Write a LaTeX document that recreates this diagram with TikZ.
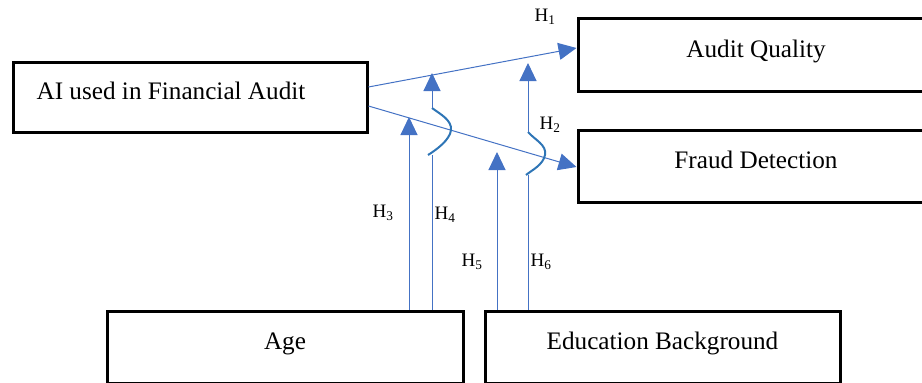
\documentclass[tikz,border=0pt]{standalone}
\usepackage{fontspec}
\setmainfont{Liberation Serif}
\usetikzlibrary{arrows.meta,calc}
\definecolor{ablue}{RGB}{68,114,196}
\definecolor{wblue}{RGB}{46,117,182}
\begin{document}
\begin{tikzpicture}[x=1pt,y=-1pt,
  box/.style={draw=black,line width=3pt,rectangle,inner sep=0pt,text height=17pt,text depth=12pt,font=\fontsize{25.2}{29}\selectfont},
  link/.style={draw=ablue,line width=1pt,-{Triangle[length=18pt,width=17pt]}},
  plain/.style={draw=ablue,line width=1pt},
  wig/.style={draw=wblue,line width=2pt},
  hlab/.style={font=\fontsize{19}{22}\selectfont,inner sep=0pt}]
\useasboundingbox (0,0) rectangle (922,383);
\clip (0,0) rectangle (922,383);
% boxes
\node[box,minimum width=354pt,minimum height=70pt] (ai) at (190,97) {\hspace*{-38pt}AI used in Financial Audit};
\node[box,minimum width=356pt,minimum height=73pt] (aq) at (756,54.5) {Audit Quality};
\node[box,minimum width=356pt,minimum height=72pt] (fd) at (756,166) {Fraud Detection};
\node[box,minimum width=356pt,minimum height=72pt] (age) at (285,347) {Age};
\node[box,minimum width=355pt,minimum height=72pt] (edu) at (662.5,347) {Education Background};
% tips and wiggle points
\coordinate (t3) at (409,117);
\coordinate (t4) at (432,73);
\coordinate (t5) at (497,152);
\coordinate (t6) at (528,63);
\coordinate (w4a) at (432,108);
\coordinate (w4b) at (428,155);
\coordinate (w4c) at (432,155);
\coordinate (w6a) at (528,132);
\coordinate (w6b) at (526,175);
\coordinate (w6c) at (528,175);
% H1, H2
\draw[link] ($(ai.east)+(0,-10)$) -- ($(aq.west)+(0,-6.5)$);
\draw[link] ($(ai.east)+(0,9)$) -- ($(fd.west)+(0,1)$);
% H3
\draw[link] (t3 |- age.north) -- (t3);
% H4
\draw[plain] (t4 |- age.north) -- (w4c);
\draw[wig] (w4b) .. controls (436,150) and (450,140) .. (451,130) .. controls (452,120) and (440,114) .. (w4a);
\draw[link] (w4a) -- (t4);
% H5
\draw[link] (t5 |- edu.north) -- (t5);
% H6
\draw[plain] (t6 |- edu.north) -- (w6c);
\draw[wig] (w6b) .. controls (532,170) and (543,165) .. (545,155) .. controls (547,145) and (535,140) .. (w6a);
\draw[link] (w6a) -- (t6);
% labels
\node[hlab] (l1) at (545,17) {H\textsubscript{1}};
\node[hlab] (l2) at (550,125) {H\textsubscript{2}};
\node[hlab] (l3) at (383,213) {H\textsubscript{3}};
\node[hlab] (l4) at (445,215) {H\textsubscript{4}};
\node[hlab] (l5) at (472,262) {H\textsubscript{5}};
\node[hlab] (l6) at (541,262) {H\textsubscript{6}};
\end{tikzpicture}
\end{document}
